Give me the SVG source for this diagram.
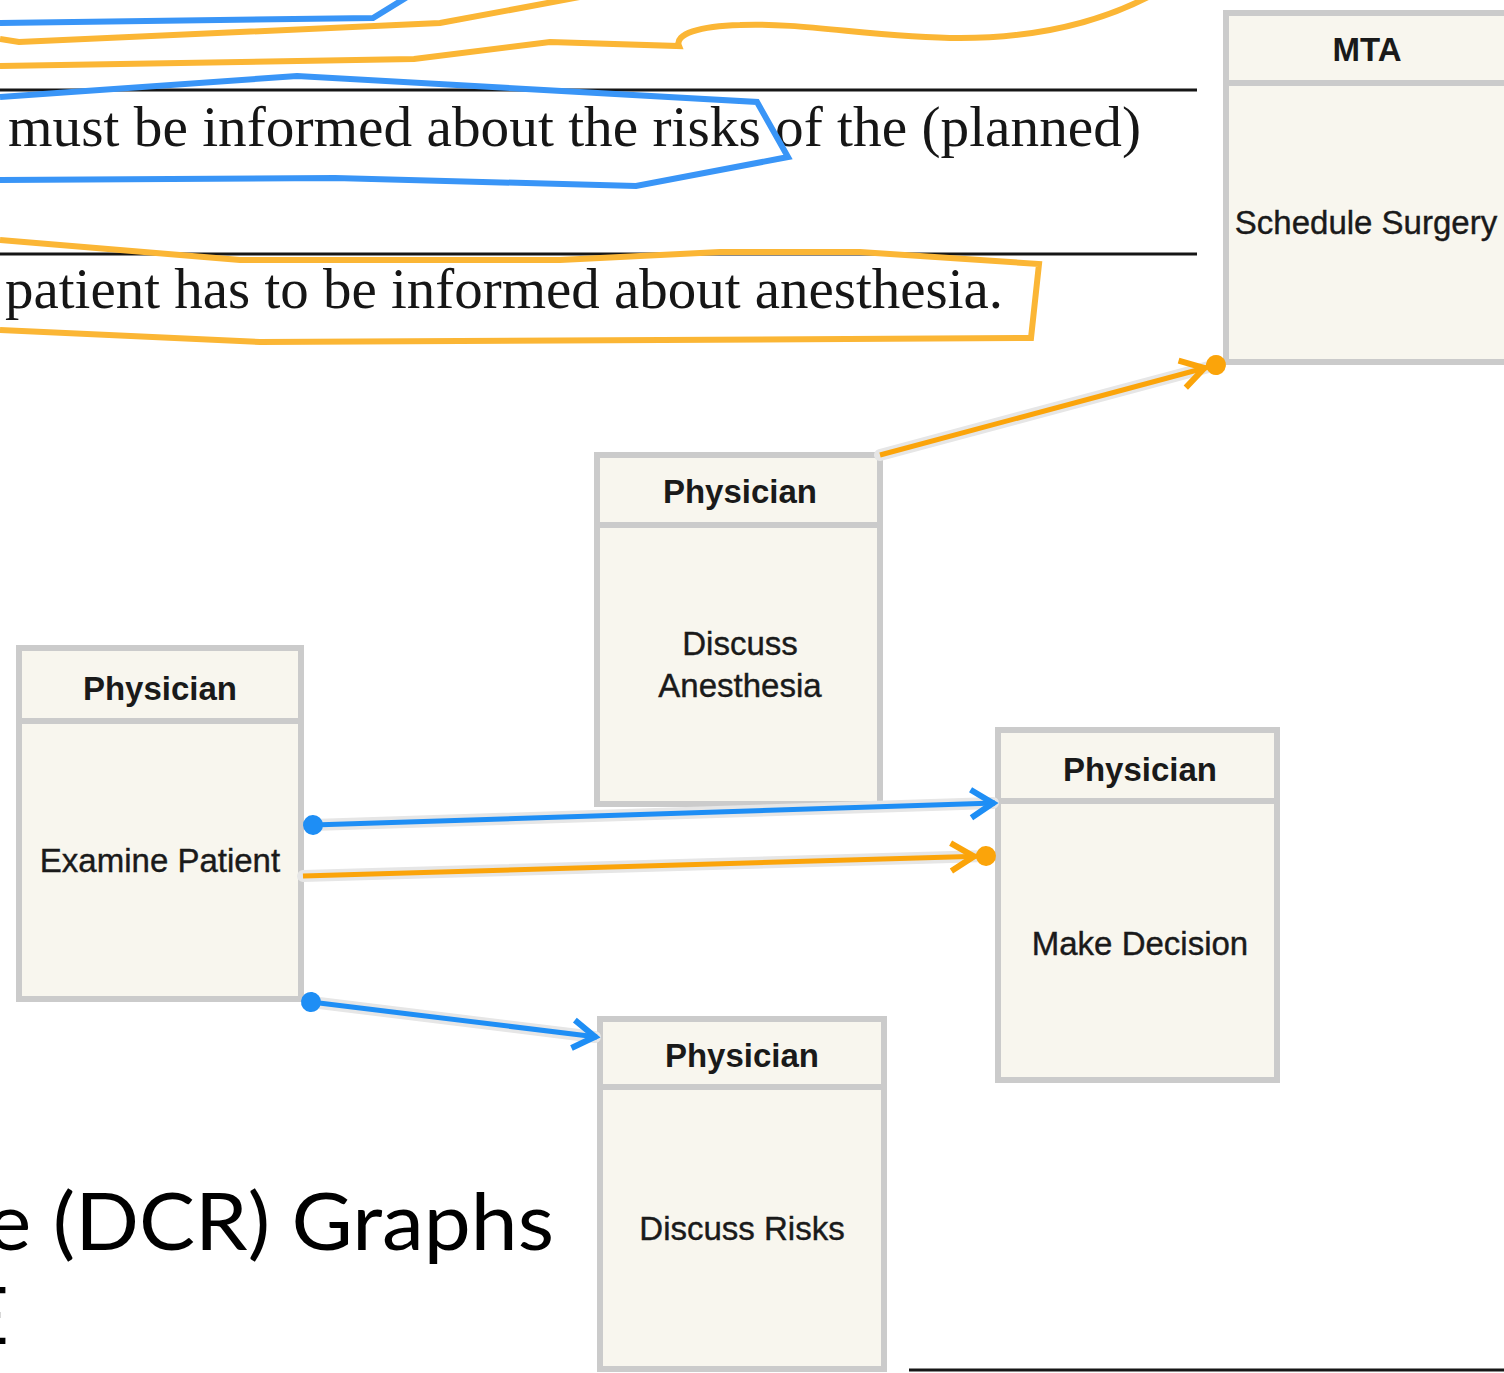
<svg xmlns="http://www.w3.org/2000/svg" width="1504" height="1373" viewBox="0 0 1504 1373">
  <style>
    .rule { stroke: #161616; stroke-width: 3; fill: none; }
    .doc { font-family: "Liberation Serif", "Times New Roman", serif; font-size: 57px; fill: #161616; }
    .title { font-family: Lato, "Open Sans", sans-serif; font-size: 80px; fill: #000; }
    .mark-blue { stroke: #3995f7; stroke-width: 6; fill: none; stroke-linejoin: miter; }
    .mark-orange { stroke: #fbb635; stroke-width: 6; fill: none; stroke-linejoin: miter; }
    .box { fill: #f8f6ee; stroke: #cbcbcb; stroke-width: 6; }
    .sep { stroke: #cbcbcb; stroke-width: 6; }
    .role { font-family: "Liberation Sans", Arial, sans-serif; font-size: 33px; font-weight: bold; fill: #1a1a1a; text-anchor: middle; }
    .act { font-family: "Liberation Sans", Arial, sans-serif; font-size: 33px; fill: #1a1a1a; stroke: #1a1a1a; stroke-width: 0.4; text-anchor: middle; }
    .halo { stroke: #e6e6e6; stroke-width: 12; stroke-linecap: round; fill: none; }
    .blue { stroke: #1e8ef5; stroke-width: 5; fill: none; }
    .orange { stroke: #fba40a; stroke-width: 5; fill: none; }
  </style>
  <defs>
    <marker id="dotBlue" markerUnits="userSpaceOnUse" markerWidth="30" markerHeight="30" refX="0" refY="0" viewBox="-15 -15 30 30" orient="auto" overflow="visible">
      <circle cx="0" cy="0" r="10" fill="#1e8ef5"/>
    </marker>
    <marker id="arrowBlue" markerUnits="userSpaceOnUse" markerWidth="40" markerHeight="40" refX="0" refY="0" viewBox="-30 -20 40 40" orient="auto" overflow="visible">
      <path d="M-24,-14 L-2,0 L-24,14" stroke="#1e8ef5" stroke-width="6" fill="none"/>
    </marker>
    <marker id="arrowDotOrange" markerUnits="userSpaceOnUse" markerWidth="60" markerHeight="40" refX="0" refY="0" viewBox="-45 -20 60 40" orient="auto" overflow="visible">
      <path d="M-35,-14 L-12,0 L-35,14" stroke="#fba40a" stroke-width="6" fill="none"/>
      <circle cx="0" cy="0" r="10" fill="#fba40a"/>
    </marker>
  </defs>

  <rect width="1504" height="1373" fill="#ffffff"/>

  <!-- document excerpt: rules and requirement sentences -->
  <g id="document">
    <line class="rule" x1="0" y1="90" x2="1197" y2="90"/>
    <line class="rule" x1="0" y1="254" x2="1197" y2="254"/>
    <line class="rule" x1="909" y1="1370" x2="1504" y2="1370"/>
    <text class="doc" x="8" y="146" textLength="1133" lengthAdjust="spacingAndGlyphs">must be informed about the risks of the (planned)</text>
    <text class="doc" x="5" y="308" textLength="998" lengthAdjust="spacingAndGlyphs">patient has to be informed about anesthesia.</text>
    <text class="title" x="-13" y="1250" textLength="567" lengthAdjust="spacingAndGlyphs">e (DCR) Graphs</text>
    <text class="title" x="9" y="1344" text-anchor="end">E</text>
  </g>

  <!-- freehand highlight marks -->
  <g id="highlights">
    <path class="mark-blue" d="M0,23 L373,18 L412,-6"/>
    <path class="mark-orange" d="M0,39 L19,42 L440,23 L585,-4"/>
    <path class="mark-orange" d="M0,66 L414,59 L550,42 L679,46 C674,34 700,26 740,25 C800,22 880,38 960,38 C1040,38 1100,22 1150,-4"/>
    <path class="mark-blue" d="M0,97 L297,76 L757,102 L788,157 L636,186 L335,178 L0,180"/>
    <path class="mark-orange" d="M0,240 L240,260 L560,260 L720,252 L860,252 L1039,264 L1031,338 L260,342 L0,330"/>
  </g>

  <!-- activities -->
  <g id="node-schedule-surgery">
    <rect class="box" x="1226" y="13" width="282" height="349"/>
    <line class="sep" x1="1226" y1="83" x2="1508" y2="83"/>
    <text class="role" x="1367" y="61">MTA</text>
    <text class="act" x="1366" y="234">Schedule Surgery</text>
  </g>
  <g id="node-discuss-anesthesia">
    <rect class="box" x="597" y="455" width="283" height="349"/>
    <line class="sep" x1="597" y1="525" x2="880" y2="525"/>
    <text class="role" x="740" y="503">Physician</text>
    <text class="act" x="740" y="655">Discuss</text>
    <text class="act" x="740" y="697">Anesthesia</text>
  </g>
  <g id="node-examine-patient">
    <rect class="box" x="19" y="648" width="282" height="351"/>
    <line class="sep" x1="19" y1="721" x2="301" y2="721"/>
    <text class="role" x="160" y="700">Physician</text>
    <text class="act" x="160" y="872">Examine Patient</text>
  </g>
  <g id="node-make-decision">
    <rect class="box" x="998" y="730" width="279" height="350"/>
    <line class="sep" x1="998" y1="801" x2="1277" y2="801"/>
    <text class="role" x="1140" y="781">Physician</text>
    <text class="act" x="1140" y="955">Make Decision</text>
  </g>
  <g id="node-discuss-risks">
    <rect class="box" x="600" y="1019" width="284" height="350"/>
    <line class="sep" x1="600" y1="1087" x2="884" y2="1087"/>
    <text class="role" x="742" y="1067">Physician</text>
    <text class="act" x="742" y="1240">Discuss Risks</text>
  </g>

  <!-- relations -->
  <g id="connectors">
    <line class="halo" x1="880" y1="455" x2="1216" y2="365"/>
    <line class="halo" x1="313" y1="825" x2="993" y2="803"/>
    <line class="halo" x1="303" y1="876" x2="986" y2="856"/>
    <line class="halo" x1="311" y1="1002" x2="595" y2="1037"/>
    <line class="orange" x1="880" y1="455" x2="1216" y2="365" marker-end="url(#arrowDotOrange)"/>
    <line class="blue" x1="313" y1="825" x2="995" y2="803" marker-start="url(#dotBlue)" marker-end="url(#arrowBlue)"/>
    <line class="orange" x1="303" y1="876" x2="986" y2="856" marker-end="url(#arrowDotOrange)"/>
    <line class="blue" x1="311" y1="1002" x2="597" y2="1037" marker-start="url(#dotBlue)" marker-end="url(#arrowBlue)"/>
  </g>
</svg>
